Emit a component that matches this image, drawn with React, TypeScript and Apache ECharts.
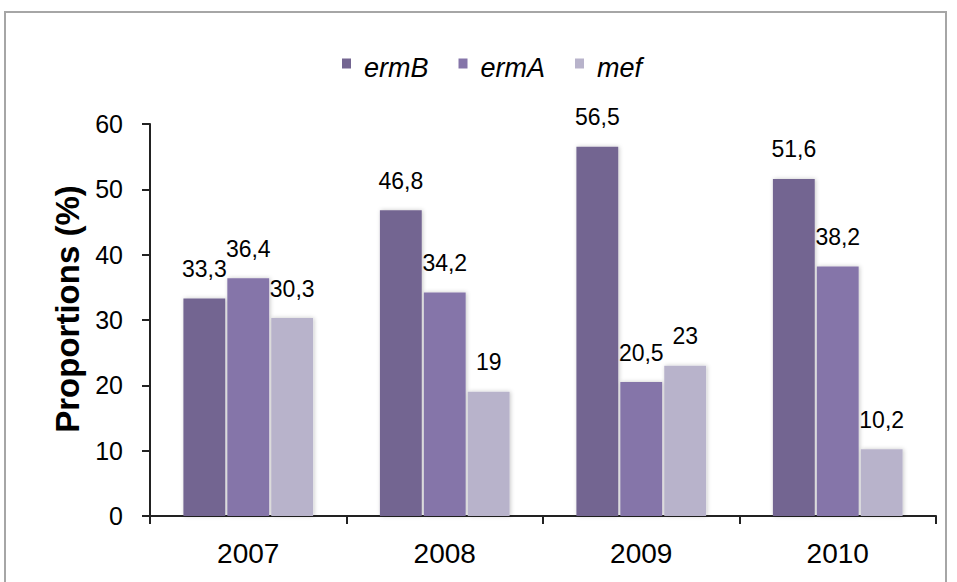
import React, { useEffect, useRef } from "react";
import * as echarts from "echarts";

const categories = ["2007", "2008", "2009", "2010"];
const ermB = [33.3, 46.8, 56.5, 51.6];
const ermA = [36.4, 34.2, 20.5, 38.2];
const mef = [30.3, 19, 23, 10.2];
const seriesNames = ["ermB", "ermA", "mef"];
const colors = ["#736591", "#8575a9", "#b8b3cb"];

const FONT = "'Liberation Sans', Arial, sans-serif";
const LEGEND_ICON = "path://M0,0L9,0L9,10L0,10Z M17,18L17,18";

export default function App() {
  const ref = useRef<HTMLDivElement>(null);
  useEffect(() => {
    if (!ref.current) return;
    const chart = echarts.init(ref.current, undefined, { renderer: "svg" });
    const values = [ermB, ermA, mef];
    const fmt = (p: any) => String(p.value).replace(".", ",");
    chart.setOption({
      animation: false,
      backgroundColor: "#ffffff",
      textStyle: { fontFamily: FONT },
      graphic: [
        {
          type: "rect",
          shape: { x: 5, y: 12, width: 941, height: 620 },
          style: { fill: "none", stroke: "#a6a6a6", lineWidth: 2 },
          silent: true,
        },
      ],
      legend: {
        top: 49,
        left: 337,
        icon: LEGEND_ICON,
        itemWidth: 17,
        itemHeight: 18,
        itemGap: 30,
        textStyle: { fontSize: 27, fontStyle: "italic", color: "#000", fontFamily: FONT },
        data: seriesNames,
      },
      grid: { left: 150, right: 21, top: 124, bottom: 66 },
      xAxis: {
        type: "category",
        data: categories,
        axisLine: { lineStyle: { color: "#222", width: 2 } },
        axisTick: { show: true, length: 8, lineStyle: { color: "#222", width: 2 } },
        axisLabel: { fontSize: 28, color: "#000", margin: 23, fontFamily: FONT },
      },
      yAxis: {
        type: "value",
        min: 0,
        max: 60,
        interval: 10,
        name: "Proportions (%)",
        nameLocation: "middle",
        nameGap: 65,
        nameTextStyle: {
          fontSize: 33,
          fontWeight: "bold",
          color: "#000",
          fontFamily: FONT,
          padding: [0, 0, 0, 22],
        },
        axisLine: { show: true, lineStyle: { color: "#222", width: 2 } },
        axisTick: { show: true, length: 8, lineStyle: { color: "#222", width: 2 } },
        axisLabel: { fontSize: 25, color: "#000", margin: 27, fontFamily: FONT },
        splitLine: { show: false },
      },
      series: seriesNames.map((name, i) => ({
        name,
        type: "bar",
        data: values[i],
        barCategoryGap: "34%",
        barGap: "5%",
        itemStyle: {
          color: colors[i],
          shadowColor: "rgba(0,0,0,0.22)",
          shadowBlur: 4,
          shadowOffsetX: 1,
        },
        label: {
          show: true,
          position: "top",
          distance: 18,
          fontSize: 23,
          color: "#000",
          fontFamily: FONT,
          formatter: fmt,
        },
      })),
    });
    return () => chart.dispose();
  }, []);
  return (
    <div
      ref={ref}
      style={{ position: "fixed", left: 0, top: 0, width: 957, height: 582 }}
    />
  );
}
